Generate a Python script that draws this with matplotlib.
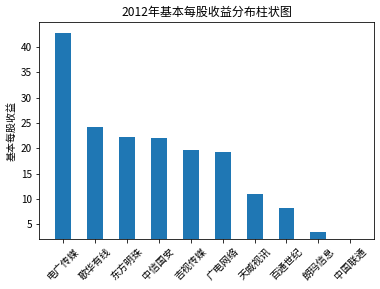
import matplotlib
matplotlib.use("Agg")
import matplotlib.pyplot as plt

plt.rcParams['font.family'] = ['Noto Sans CJK SC', 'DejaVu Sans']
plt.rcParams['axes.unicode_minus'] = False

# data
companies = ["电广传媒", "歌华有线", "东方明珠", "中信国安", "吉视传媒",
             "广电网络", "天威视讯", "百通世纪", "朗玛信息", "中国联通"]
eps = [42.7, 24.1, 22.3, 22.1, 19.7, 19.3, 11.0, 8.2, 3.5, 2.12]

fig = plt.figure(figsize=(380/72, 289/72), dpi=72)
ax = fig.add_axes([39/380, 1 - 239/289, (374.3 - 39)/380, (239 - 22.3)/289])

ax.bar(range(len(companies)), eps, width=0.5, color="#1f77b4")
ax.set_xticks(range(len(companies)))
ax.set_xticklabels(companies, rotation=45)
ax.set_xlim(-0.75, len(companies) - 0.25)
ax.set_ylim(min(eps), max(eps) * 1.05)
ax.set_ylabel("基本每股收益")
ax.set_title("2012年基本每股收益分布柱状图", fontsize=12)

fig.savefig("out.png", dpi=72)
